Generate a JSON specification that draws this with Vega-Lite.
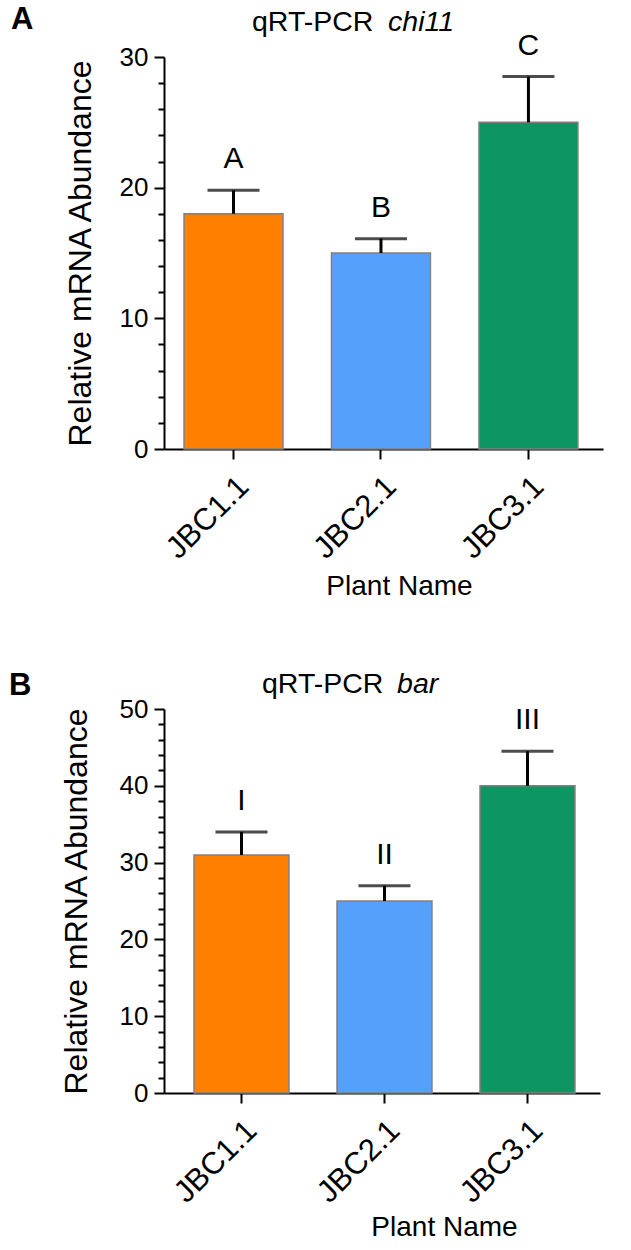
{
  "$schema": "https://vega.github.io/schema/vega-lite/v6.json",
  "padding": {"left": 9, "top": 4, "right": 5, "bottom": 2},
  "config": {
    "font": "Liberation Sans",
    "view": {"stroke": null},
    "title": {"color": "black", "fontWeight": "normal"},
    "axis": {
      "grid": false,
      "domainColor": "black",
      "domainWidth": 2,
      "tickColor": "black",
      "tickWidth": 2,
      "labelColor": "black",
      "titleColor": "black",
      "titleFontWeight": "normal",
      "labelFont": "Liberation Sans",
      "titleFont": "Liberation Sans"
    },
    "axisY": {"labelOverlap": false}
  },
  "datasets": {
    "chi11": [
      {"plant": "JBC1.1", "mean": 18.0, "upper": 19.8, "group": "A"},
      {"plant": "JBC2.1", "mean": 15.0, "upper": 16.1, "group": "B"},
      {"plant": "JBC3.1", "mean": 25.0, "upper": 28.5, "group": "C"}
    ],
    "bar": [
      {"plant": "JBC1.1", "mean": 31.0, "upper": 34.0, "group": "I"},
      {"plant": "JBC2.1", "mean": 25.0, "upper": 27.0, "group": "II"},
      {"plant": "JBC3.1", "mean": 40.0, "upper": 44.5, "group": "III"}
    ]
  },
  "spacing": 69,
  "vconcat": [
    {
      "title": {"text": "A", "anchor": "start", "frame": "bounds", "fontSize": 31, "fontWeight": "bold", "dx": -53, "offset": -28},
      "vconcat": [
        {
          "title": {"text": "chi11", "anchor": "start", "frame": "bounds", "fontSize": 28.5, "fontStyle": "italic", "dx": 324, "offset": -28.5},
          "vconcat": [
            {
              "width": 439,
              "height": 392,
              "data": {"name": "chi11"},
              "title": {"text": "qRT-PCR", "anchor": "start", "frame": "group", "dx": 88, "fontSize": 28.5, "offset": -6},
              "encoding": {
                "x": {
                  "field": "plant",
                  "type": "nominal",
                  "sort": null,
                  "title": "Plant Name",
                  "scale": {"paddingInner": 0.329, "paddingOuter": 0.153, "align": 0.444},
                  "axis": {
                    "labelAngle": -45,
                    "labelFontSize": 31,
                    "labelPadding": 12,
                    "tickSize": 10,
                    "titleFontSize": 28,
                    "titleX": 235,
                    "titleY": 123
                  }
                }
              },
              "layer": [
                {
                  "mark": {"type": "bar", "stroke": "#808080", "strokeWidth": 1.5},
                  "encoding": {
                    "y": {
                      "field": "mean",
                      "type": "quantitative",
                      "title": "Relative mRNA Abundance",
                      "scale": {"domain": [0, 30]},
                      "axis": {
                        "values": [0, 2, 4, 6, 8, 10, 12, 14, 16, 18, 20, 22, 24, 26, 28, 30],
                        "labelExpr": "datum.value % 10 === 0 ? datum.label : ''",
                        "labelOverlap": false,
                        "labelBound": false,
                        "labelFontSize": {"condition": {"test": "datum.value % 10 === 0", "value": 26}, "value": 0},
                        "tickSize": {"condition": {"test": "datum.value % 10 === 0", "value": 10}, "value": 6},
                        "labelPadding": 6,
                        "titleFontSize": 32,
                        "titlePadding": 22
                      }
                    },
                    "color": {
                      "field": "plant",
                      "type": "nominal",
                      "scale": {"domain": ["JBC1.1", "JBC2.1", "JBC3.1"], "range": ["#ff7f00", "#55a0fa", "#0e9662"]},
                      "legend": null
                    }
                  }
                },
                {
                  "mark": {"type": "rule", "strokeWidth": 3, "color": "black"},
                  "encoding": {
                    "y": {
                      "field": "mean",
                      "type": "quantitative",
                      "title": "Relative mRNA Abundance",
                      "axis": {
                        "values": [0, 2, 4, 6, 8, 10, 12, 14, 16, 18, 20, 22, 24, 26, 28, 30],
                        "labelExpr": "datum.value % 10 === 0 ? datum.label : ''",
                        "labelOverlap": false,
                        "labelBound": false,
                        "labelFontSize": {"condition": {"test": "datum.value % 10 === 0", "value": 26}, "value": 0},
                        "tickSize": {"condition": {"test": "datum.value % 10 === 0", "value": 10}, "value": 6},
                        "labelPadding": 6,
                        "titleFontSize": 32,
                        "titlePadding": 22
                      }
                    },
                    "y2": {"field": "upper"}
                  }
                },
                {
                  "mark": {"type": "tick", "orient": "horizontal", "size": 52, "thickness": 3, "color": "black"},
                  "encoding": {
                    "y": {
                      "field": "upper",
                      "type": "quantitative",
                      "title": "Relative mRNA Abundance",
                      "axis": {
                        "values": [0, 2, 4, 6, 8, 10, 12, 14, 16, 18, 20, 22, 24, 26, 28, 30],
                        "labelExpr": "datum.value % 10 === 0 ? datum.label : ''",
                        "labelOverlap": false,
                        "labelBound": false,
                        "labelFontSize": {"condition": {"test": "datum.value % 10 === 0", "value": 26}, "value": 0},
                        "tickSize": {"condition": {"test": "datum.value % 10 === 0", "value": 10}, "value": 6},
                        "labelPadding": 6,
                        "titleFontSize": 32,
                        "titlePadding": 22
                      }
                    }
                  }
                },
                {
                  "mark": {"type": "text", "baseline": "alphabetic", "dy": -22, "fontSize": 30, "color": "black"},
                  "encoding": {
                    "y": {
                      "field": "upper",
                      "type": "quantitative",
                      "title": "Relative mRNA Abundance",
                      "axis": {
                        "values": [0, 2, 4, 6, 8, 10, 12, 14, 16, 18, 20, 22, 24, 26, 28, 30],
                        "labelExpr": "datum.value % 10 === 0 ? datum.label : ''",
                        "labelOverlap": false,
                        "labelBound": false,
                        "labelFontSize": {"condition": {"test": "datum.value % 10 === 0", "value": 26}, "value": 0},
                        "tickSize": {"condition": {"test": "datum.value % 10 === 0", "value": 10}, "value": 6},
                        "labelPadding": 6,
                        "titleFontSize": 32,
                        "titlePadding": 22
                      }
                    },
                    "text": {"field": "group"}
                  }
                }
              ]
            }
          ]
        }
      ]
    },
    {
      "title": {"text": "B", "anchor": "start", "frame": "bounds", "fontSize": 31, "fontWeight": "bold", "dx": -51, "offset": -32},
      "vconcat": [
        {
          "title": {"text": "bar", "anchor": "start", "frame": "bounds", "fontSize": 28.5, "fontStyle": "italic", "dx": 337, "offset": -28.5},
          "vconcat": [
            {
              "width": 436,
              "height": 384,
              "data": {"name": "bar"},
              "title": {"text": "qRT-PCR", "anchor": "start", "frame": "group", "dx": 98, "fontSize": 28.5, "offset": -2},
              "encoding": {
                "x": {
                  "field": "plant",
                  "type": "nominal",
                  "sort": null,
                  "title": "Plant Name",
                  "scale": {"paddingInner": 0.336, "paddingOuter": 0.1925, "align": 0.545},
                  "axis": {
                    "labelAngle": -45,
                    "labelFontSize": 31,
                    "labelPadding": 12,
                    "tickSize": 10,
                    "titleFontSize": 28,
                    "titleX": 280,
                    "titleY": 120
                  }
                }
              },
              "layer": [
                {
                  "mark": {"type": "bar", "stroke": "#808080", "strokeWidth": 1.5},
                  "encoding": {
                    "y": {
                      "field": "mean",
                      "type": "quantitative",
                      "title": "Relative mRNA Abundance",
                      "scale": {"domain": [0, 50]},
                      "axis": {
                        "values": [0, 2, 4, 6, 8, 10, 12, 14, 16, 18, 20, 22, 24, 26, 28, 30, 32, 34, 36, 38, 40, 42, 44, 46, 48, 50],
                        "labelExpr": "datum.value % 10 === 0 ? datum.label : ''",
                        "labelOverlap": false,
                        "labelBound": false,
                        "labelFontSize": {"condition": {"test": "datum.value % 10 === 0", "value": 26}, "value": 0},
                        "tickSize": {"condition": {"test": "datum.value % 10 === 0", "value": 10}, "value": 6},
                        "labelPadding": 6,
                        "titleFontSize": 32,
                        "titlePadding": 26
                      }
                    },
                    "color": {
                      "field": "plant",
                      "type": "nominal",
                      "scale": {"domain": ["JBC1.1", "JBC2.1", "JBC3.1"], "range": ["#ff7f00", "#55a0fa", "#0e9662"]},
                      "legend": null
                    }
                  }
                },
                {
                  "mark": {"type": "rule", "strokeWidth": 3, "color": "black"},
                  "encoding": {
                    "y": {
                      "field": "mean",
                      "type": "quantitative",
                      "title": "Relative mRNA Abundance",
                      "axis": {
                        "values": [0, 2, 4, 6, 8, 10, 12, 14, 16, 18, 20, 22, 24, 26, 28, 30, 32, 34, 36, 38, 40, 42, 44, 46, 48, 50],
                        "labelExpr": "datum.value % 10 === 0 ? datum.label : ''",
                        "labelOverlap": false,
                        "labelBound": false,
                        "labelFontSize": {"condition": {"test": "datum.value % 10 === 0", "value": 26}, "value": 0},
                        "tickSize": {"condition": {"test": "datum.value % 10 === 0", "value": 10}, "value": 6},
                        "labelPadding": 6,
                        "titleFontSize": 32,
                        "titlePadding": 26
                      }
                    },
                    "y2": {"field": "upper"}
                  }
                },
                {
                  "mark": {"type": "tick", "orient": "horizontal", "size": 52, "thickness": 3, "color": "black"},
                  "encoding": {
                    "y": {
                      "field": "upper",
                      "type": "quantitative",
                      "title": "Relative mRNA Abundance",
                      "axis": {
                        "values": [0, 2, 4, 6, 8, 10, 12, 14, 16, 18, 20, 22, 24, 26, 28, 30, 32, 34, 36, 38, 40, 42, 44, 46, 48, 50],
                        "labelExpr": "datum.value % 10 === 0 ? datum.label : ''",
                        "labelOverlap": false,
                        "labelBound": false,
                        "labelFontSize": {"condition": {"test": "datum.value % 10 === 0", "value": 26}, "value": 0},
                        "tickSize": {"condition": {"test": "datum.value % 10 === 0", "value": 10}, "value": 6},
                        "labelPadding": 6,
                        "titleFontSize": 32,
                        "titlePadding": 26
                      }
                    }
                  }
                },
                {
                  "mark": {"type": "text", "baseline": "alphabetic", "dy": -22, "fontSize": 30, "color": "black"},
                  "encoding": {
                    "y": {
                      "field": "upper",
                      "type": "quantitative",
                      "title": "Relative mRNA Abundance",
                      "axis": {
                        "values": [0, 2, 4, 6, 8, 10, 12, 14, 16, 18, 20, 22, 24, 26, 28, 30, 32, 34, 36, 38, 40, 42, 44, 46, 48, 50],
                        "labelExpr": "datum.value % 10 === 0 ? datum.label : ''",
                        "labelOverlap": false,
                        "labelBound": false,
                        "labelFontSize": {"condition": {"test": "datum.value % 10 === 0", "value": 26}, "value": 0},
                        "tickSize": {"condition": {"test": "datum.value % 10 === 0", "value": 10}, "value": 6},
                        "labelPadding": 6,
                        "titleFontSize": 32,
                        "titlePadding": 26
                      }
                    },
                    "text": {"field": "group"}
                  }
                }
              ]
            }
          ]
        }
      ]
    }
  ]
}
